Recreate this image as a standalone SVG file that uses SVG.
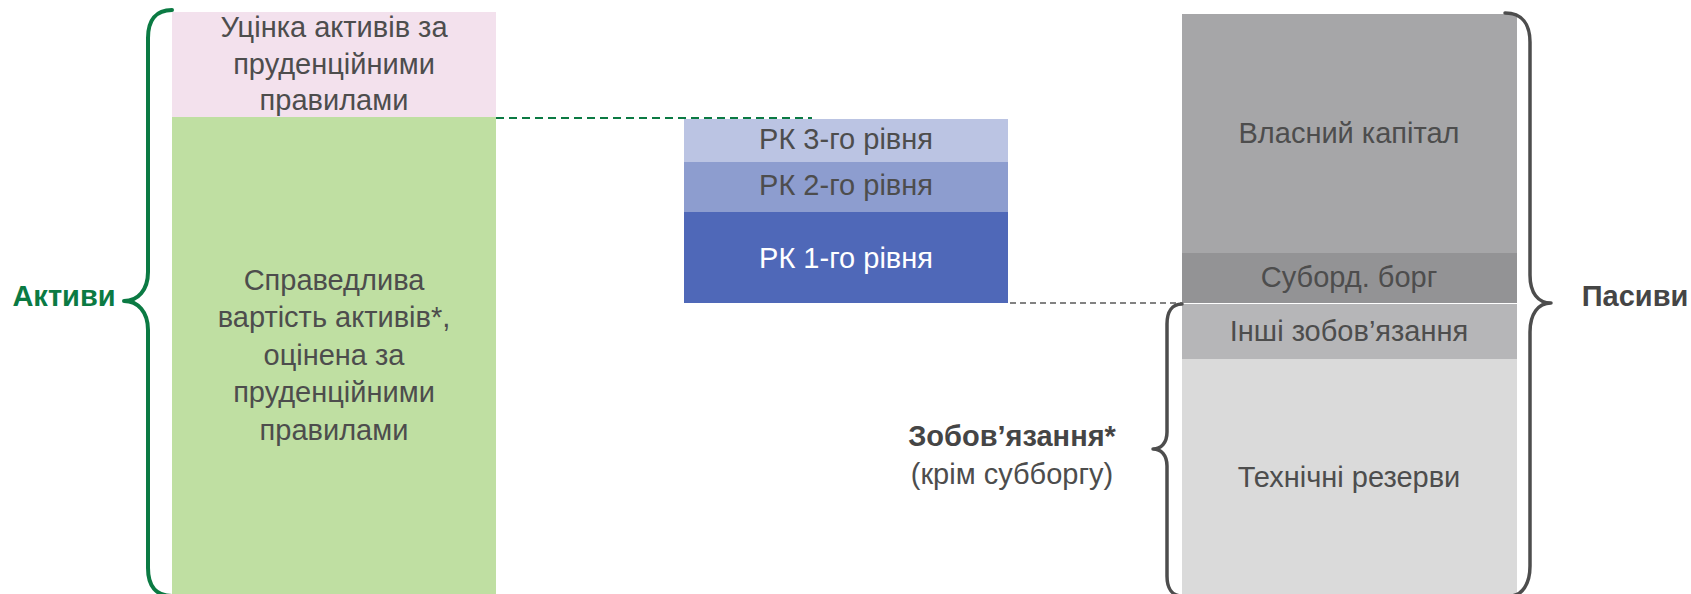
<svg xmlns="http://www.w3.org/2000/svg" width="1691" height="594" viewBox="0 0 1691 594">
<style>
text{font-family:"Liberation Sans",Arial,sans-serif;font-size:29px;fill:#4D4D4D;text-anchor:middle}
.b{font-weight:bold;fill:#454545}
.w{fill:#FFFFFF}
.g{fill:#0B7A43}
.brace{fill:none;stroke-linecap:round;stroke-linejoin:round}
</style>
<rect width="1691" height="594" fill="#FFFFFF"/>
<g id="assets-writedown">
<rect x="172" y="12" width="324" height="105" fill="#F3E1ED"/>
<text x="334" y="37">Уцінка активів за</text>
<text x="334" y="74">пруденційними</text>
<text x="334" y="110">правилами</text>
</g>
<g id="assets-fair">
<rect x="172" y="117" width="324" height="477" fill="#BFDFA2"/>
<text x="334" y="290">Справедлива</text>
<text x="334" y="327">вартість активів*,</text>
<text x="334" y="365">оцінена за</text>
<text x="334" y="402">пруденційними</text>
<text x="334" y="440">правилами</text>
</g>
<g id="rk3">
<rect x="684" y="119" width="324" height="43" fill="#BBC4E3"/>
<text x="846" y="149">РК 3-го рівня</text>
</g>
<g id="rk2">
<rect x="684" y="162" width="324" height="50" fill="#8D9DCF"/>
<text x="846" y="195">РК 2-го рівня</text>
</g>
<g id="rk1">
<rect x="684" y="212" width="324" height="91" fill="#4F68B8"/>
<text class="w" x="846" y="268">РК 1-го рівня</text>
</g>
<g id="equity">
<rect x="1182" y="14" width="335" height="239" fill="#A6A6A8"/>
<text x="1349" y="143">Власний капітал</text>
</g>
<g id="subdebt">
<rect x="1182" y="253" width="335" height="50" fill="#939395"/>
<text x="1349" y="287">Суборд. борг</text>
</g>
<g id="other-liab">
<rect x="1182" y="304" width="335" height="55" fill="#B6B6B8"/>
<text x="1349" y="341">Інші зобов’язання</text>
</g>
<g id="tech-reserves">
<rect x="1182" y="359" width="335" height="235" fill="#DADADA"/>
<text x="1349" y="487">Технічні резерви</text>
</g>
<g id="assets-label">
<path class="brace" stroke="#0B7A43" stroke-width="4" d="M172,10 C156,10 148,20 148,38 L148,272 C148,290 138,301 124,301 C138,301 148,312 148,330 L148,568 C148,586 156,596 172,596"/>
<text class="b g" x="64" y="306">Активи</text>
</g>
<g id="liabilities-label">
<path class="brace" stroke="#4D4D4D" stroke-width="3.5" d="M1505,13 C1522,13 1530,24 1530,42 L1530,275 C1530,293 1538,303 1551,303 C1538,303 1530,314 1530,332 L1530,566 C1530,584 1522,596 1510,596"/>
<text class="b" x="1635" y="306">Пасиви</text>
</g>
<g id="obligations-label">
<path class="brace" stroke="#4D4D4D" stroke-width="3.5" d="M1182,304 C1172,304 1167,312 1167,324 L1167,432 C1167,443 1161,449 1153,449 C1161,449 1167,455 1167,466 L1167,576 C1167,588 1172,596 1182,596"/>
<text class="b" x="1012" y="446">Зобов’язання*</text>
<text x="1012" y="484">(крім субборгу)</text>
</g>
<g id="connectors">
<line x1="496" y1="118" x2="812" y2="118" stroke="#0B7A43" stroke-width="2" stroke-dasharray="8,5"/>
<line x1="1010" y1="303" x2="1182" y2="303" stroke="#595959" stroke-width="1.5" stroke-dasharray="6,4"/>
</g>
</svg>
